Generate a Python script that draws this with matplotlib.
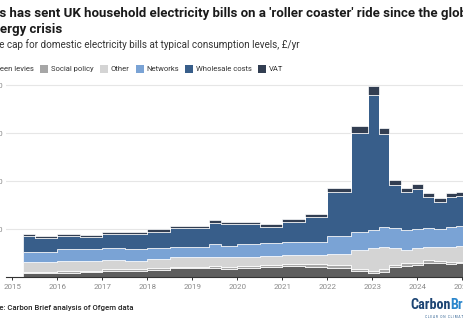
# plot.py
#   UK household electricity price cap, stacked by cost component (£/yr)

import matplotlib
matplotlib.use('Agg')
from matplotlib import pyplot as plt
from matplotlib import font_manager as fm
from matplotlib.patches import Rectangle

W, H = 463, 326

# decimal year at which each price-cap step starts
period_start = [2015.24, 2015.5, 2016.0, 2016.5, 2017.0, 2017.5, 2018.0, 2018.5, 2019.38, 2019.63,
                2020.0, 2020.5, 2021.0, 2021.51, 2022.0, 2022.52, 2022.9, 2023.14, 2023.38, 2023.63,
                2023.88, 2024.13, 2024.38, 2024.63, 2024.87]
period_end = 2025.12

green_levies  = [39, 39, 45, 49, 59, 66, 73, 91, 97, 83, 97, 107, 115, 104, 97, 63, 45, 52, 99, 115, 125, 148, 144, 135, 143]
social_policy = [17, 17, 18, 17, 21, 15, 18, 17, 21, 18, 18, 18, 18, 28, 24, 21, 18, 28, 26, 31, 24, 24, 26, 21, 17]
other         = [98, 98, 104, 104, 97, 86, 94, 98, 94, 104, 97, 97, 97, 97, 117, 198, 243, 235, 172, 132, 150, 141, 141, 159, 164]
networks      = [110, 110, 125, 122, 122, 122, 121, 110, 129, 121, 132, 129, 139, 132, 188, 191, 184, 202, 210, 208, 198, 195, 190, 202, 208]
wholesale     = [167, 144, 132, 122, 146, 156, 167, 192, 224, 221, 208, 173, 205, 260, 456, 1025, 1406, 969, 454, 399, 423, 329, 278, 319, 316]
vat           = [21, 23, 24, 24, 21, 21, 25, 24, 24, 21, 24, 28, 28, 31, 42, 76, 94, 69, 49, 46, 46, 42, 42, 42, 42]

labels = ['Green levies', 'Social policy', 'Other', 'Networks', 'Wholesale costs', 'VAT']
colors = ['#5e5e5e', '#a6a6a6', '#d4d4d4', '#7aa3d5', '#385e8a', '#323e52']

year_ticks = list(range(2015, 2026))
y_ticks = [500, 1000, 1500, 2000]

plt.rcParams['font.family'] = ['Roboto', 'DejaVu Sans']

fig = plt.figure(figsize=(W / 100, H / 100), dpi=100)
renderer = fig.canvas.get_renderer()

# axes placed in pixels: left edge x=6, baseline y=277, 45 px per year
x0 = 2015 + (6 - 12.3) / 45
x1 = 2015 + (W - 12.3) / 45
ytop = 2050
ax = fig.add_axes([6 / W, (H - 277) / H, (W - 6) / W, ytop * 0.096 / H])

series = [green_levies, social_policy, other, networks, wholesale, vat]
xs = period_start + [period_end]
ax.stackplot(xs, *[s + [s[-1]] for s in series], colors=colors, step='post',
             edgecolor='white', linewidth=0.5)

ax.set_xlim(x0, x1)
ax.set_ylim(0, ytop)
ax.set_axisbelow(True)
for side in ['top', 'right', 'left']:
    ax.spines[side].set_visible(False)
ax.spines['bottom'].set_color('#333333')
ax.spines['bottom'].set_linewidth(0.8)

ax.set_xticks(year_ticks)
ax.set_xticklabels([str(y) for y in year_ticks])
ax.tick_params(axis='x', length=2.2, width=0.7, color='#333333', labelcolor='#8a8a8a',
               labelsize=5.8, pad=2.5)
ax.set_yticks(y_ticks)
ax.set_yticklabels([f'{v:,}' for v in y_ticks])
ax.tick_params(axis='y', length=0, labelcolor='#8a8a8a', labelsize=5.8, pad=2.2)
ax.grid(axis='y', color='#e6e6e6', linewidth=0.8)


def cut_text(prefix, rest, x_vis, y, **kw):
    # text whose first letters run off the left edge of the picture
    probe = fig.text(0, 0, prefix, **kw)
    w = probe.get_window_extent(renderer).width
    probe.remove()
    return fig.text((x_vis - w) / W, 1 - y / H, prefix + rest, ha='left', va='baseline', **kw)


cut_text('Ga', "s has sent UK household electricity bills on a 'roller coaster' ride since the global",
         -0.5, 16.7, fontsize=9.5, fontweight='bold', color='#1a1a1a')
cut_text('En', 'ergy crisis', -0.5, 33.3, fontsize=9.5, fontweight='bold', color='#1a1a1a')
cut_text('Pric', 'e cap for domestic electricity bills at typical consumption levels, £/yr',
         -0.5, 48.3, fontsize=7.1, color='#333333')
cut_text('Sourc', 'e: Carbon Brief analysis of Ofgem data', -0.5, 310,
         fontsize=5.6, fontweight='medium', color='#222222')

# legend row
leg_kw = dict(fontsize=5.5, color='#333333')
t = cut_text('Gr', labels[0][2:], 0, 71, **leg_kw)
x = t.get_window_extent(renderer).x1 + 6
for lab, col in zip(labels[1:], colors[1:]):
    fig.patches.append(Rectangle((x / W, 1 - 73 / H), 8 / W, 8 / H, facecolor=col,
                                 edgecolor='none', transform=fig.transFigure, figure=fig))
    t = fig.text((x + 11) / W, 1 - 71 / H, lab, ha='left', va='baseline', **leg_kw)
    x = t.get_window_extent(renderer).x1 + 6

# Carbon Brief logo
names = {f.name for f in fm.fontManager.ttflist}
logo_font = 'DejaVu Sans'
for cand in ['Liberation Sans Narrow', 'Roboto Condensed']:
    if cand in names:
        logo_font = cand
        break
t = fig.text(410 / W, 1 - 309 / H, 'Carbon', ha='left', va='baseline', fontsize=10.2,
             fontweight='bold', family=logo_font, color='#1c4473')
x = t.get_window_extent(renderer).x1
fig.text(x / W, 1 - 309 / H, 'Brief', ha='left', va='baseline', fontsize=10.2,
         fontweight='bold', family=logo_font, color='#2a86cc')
fig.text(425 / W, 1 - 317.5 / H, 'C L E A R   O N   C L I M A T E', ha='left', va='baseline',
         fontsize=2.3, color='#2a5d8f')

fig.savefig('out.png', dpi=100)
